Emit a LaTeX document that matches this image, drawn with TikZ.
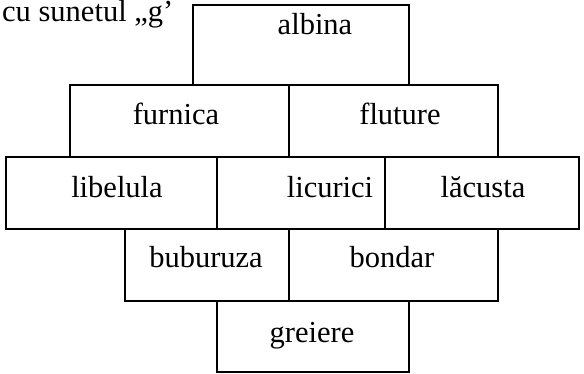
\documentclass[tikz,border=0pt]{standalone}
\usepackage{fontspec}
\setmainfont{Liberation Serif}
\tikzset{
  cell/.style={draw,line width=1.6pt,inner sep=0pt,outer sep=0pt},
  word/.style={anchor=base,inner sep=0pt,font=\fontsize{30.5}{36}\selectfont}
}
% one table cell from its lower left and upper right corner
\newcommand{\cellbox}[5]{%
  \node[cell,minimum width={#4-#2},minimum height={#5-#3}] (#1) at ({(#2+#4)/2},{(#3+#5)/2}) {};}

\begin{document}
\begin{tikzpicture}[x=1pt,y=1pt]
\useasboundingbox (0,0) rectangle (584,373);
\node[word,anchor=base west] (title) at (2,351) {cu sunetul „g’};

\cellbox{c1}{193}{288}{409}{368}
\cellbox{c21}{70}{216}{289}{288}
\cellbox{c22}{289}{216}{498}{288}
\cellbox{c31}{6}{144}{217}{216}
\cellbox{c32}{217}{144}{385}{216}
\cellbox{c33}{385}{144}{579}{216}
\cellbox{c41}{125}{72}{289}{144}
\cellbox{c42}{289}{72}{498}{144}
\cellbox{c5}{217}{1}{409}{72}

\node[word] (albina) at (315,338) {albina};
\node[word] (furnica) at (176,248) {furnica};
\node[word] (fluture) at (400,248) {fluture};
\node[word] (libelula) at (117,176) {libelula};
\node[word] (licurici) at (330,176) {licurici};
\node[word] (lacusta) at (483,176) {lăcusta};
\node[word] (buburuza) at (206,106) {buburuza};
\node[word] (bondar) at (392,106) {bondar};
\node[word] (greiere) at (312,31) {greiere};
\end{tikzpicture}
\end{document}
